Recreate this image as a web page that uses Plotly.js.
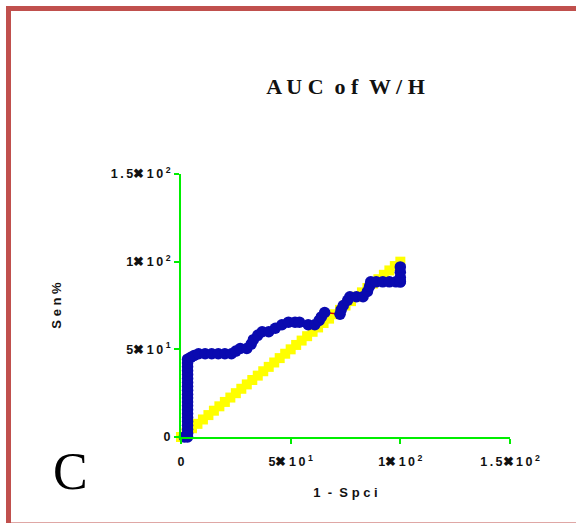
<!DOCTYPE html>
<html>
<head>
<meta charset="utf-8">
<script src="https://cdn.plot.ly/plotly-3.0.1.min.js"></script>
<style>
html,body{margin:0;padding:0;background:#fff;}
#chart{width:576px;height:523px;}
</style>
</head>
<body>
<div id="chart"></div>
<script>
// Reference (chance) line values
const refX = [0,2.5,5,7.5,10,12.5,15,17.5,20,22.5,25,27.5,30,32.5,35,37.5,40,42.5,45,47.5,50,52.5,55,57.5,60,62.5,65,67.5,70,72.5,75,77.5,80,82.5,85,87.5,90,92.5,95,97.5,100];
const refY = [0,2.5,5,7.5,10,12.5,15,17.5,20,22.5,25,27.5,30,32.5,35,37.5,40,42.5,45,47.5,50,52.5,55,57.5,60,62.5,65,67.5,70,72.5,75,77.5,80,82.5,85,87.5,90,92.5,95,97.5,100];

// ROC curve of W/H (1 - Specificity %, Sensitivity %)
const rocX = [1.5,3,3,3,3,3,3,3,3,3,3,3,3,3,3,3,3,3,3,3,3,3,
  4.5,6,8,11,14,17,20,23,25,27,30,32,33,35,37,40,43,46,49,52,54,
  58,61,63,64,65.5,72.5,73,74,76,77,80,83,85,86,86.5,89,92,95,98,100,100,100,100,100];
const rocY = [0,0,2.2,4.4,6.7,8.9,11.1,13.3,15.6,17.8,20,22.2,24.4,26.7,28.9,31.1,33.3,35.6,37.8,40,42.2,44.4,
  45.5,46.5,47.5,47.5,47.5,47.5,47.5,47.5,49,50.5,50.5,53,55.5,58,60,60,62,64,65.5,65.5,65.5,
  64,64,66.5,68.5,71,70,72.5,75,78,80,80,80,83,86,88.5,88.5,88.5,88.5,88.5,88.5,88.5,91,94,97,100];

// Tick values and labels
const tickVals = [0,50,100,150];
const tickText = ['0','5\u2716\u20091\u20090\u2009<sup>1</sup>','1\u2716\u20091\u20090\u2009<sup>2</sup>','1\u2009.\u20095\u2716\u20091\u20090\u2009<sup>2</sup>'];

const L=181, R=66, T=174, B=86, W=576-L-R, H=523-T-B;
const px = x => (x-L)/W;
const py = y => (523-B-y)/H;

const traces = [
  {x: refX, y: refY, type:'scatter', mode:'lines+markers',
   line:{color:'#cc0000', width:1.5},
   marker:{symbol:'square', size:10, color:'#ffff00'},
   cliponaxis:false, hoverinfo:'skip'},
  {x: rocX, y: rocY, type:'scatter', mode:'lines+markers',
   line:{color:'#cc0000', width:1.5},
   marker:{symbol:'circle', size:11.5, color:'#0a0ab0'},
   cliponaxis:false, hoverinfo:'skip'}
];

const axisCommon = {
  range:[0,150], autorange:false, showgrid:false, zeroline:false,
  showline:true, linecolor:'#00ee00', linewidth:2,
  ticks:'outside', ticklen:5, tickwidth:2, tickcolor:'#00ee00',
  tickvals: tickVals, ticktext: tickText,
  tickfont:{family:'Liberation Sans, Arial, sans-serif', size:12.5, color:'#111', weight:'bold'}
};

const layout = {
  width:576, height:523,
  margin:{l:L, r:R, t:T, b:B},
  paper_bgcolor:'#ffffff', plot_bgcolor:'#ffffff',
  showlegend:false,
  title:{text:'A U C  o f  W / H', x:0.5, xref:'paper', xanchor:'center',
         y:1-86/523, yref:'container', yanchor:'middle',
         font:{family:'Liberation Serif, Times New Roman, serif', size:22, color:'#111', weight:'bold'}},
  xaxis: Object.assign({}, axisCommon, {
    ticklabelstandoff:7,
    title:{text:'1  -  S p c i', standoff:20,
      font:{family:'Liberation Sans, Arial, sans-serif', size:13, color:'#111', weight:'bold'}}
  }),
  yaxis: Object.assign({}, axisCommon, {
    ticklabelstandoff:1,
    title:{text:'S e n %', standoff:46,
      font:{family:'Liberation Sans, Arial, sans-serif', size:13, color:'#111', weight:'bold'}}
  }),
  annotations:[
    {text:'C', xref:'paper', yref:'paper', x:px(70), y:py(471), xanchor:'center', yanchor:'middle',
     showarrow:false, font:{family:'Liberation Serif, Times New Roman, serif', size:52, color:'#000'}}
  ],
  shapes:[
    {type:'rect', xref:'paper', yref:'paper', x0:px(8.5), x1:px(600), y0:py(8.5), y1:py(525),
     line:{color:'#c0504d', width:5}, fillcolor:'rgba(0,0,0,0)', layer:'above'}
  ]
};

Plotly.newPlot('chart', traces, layout, {staticPlot:true, displayModeBar:false});
</script>
</body>
</html>
